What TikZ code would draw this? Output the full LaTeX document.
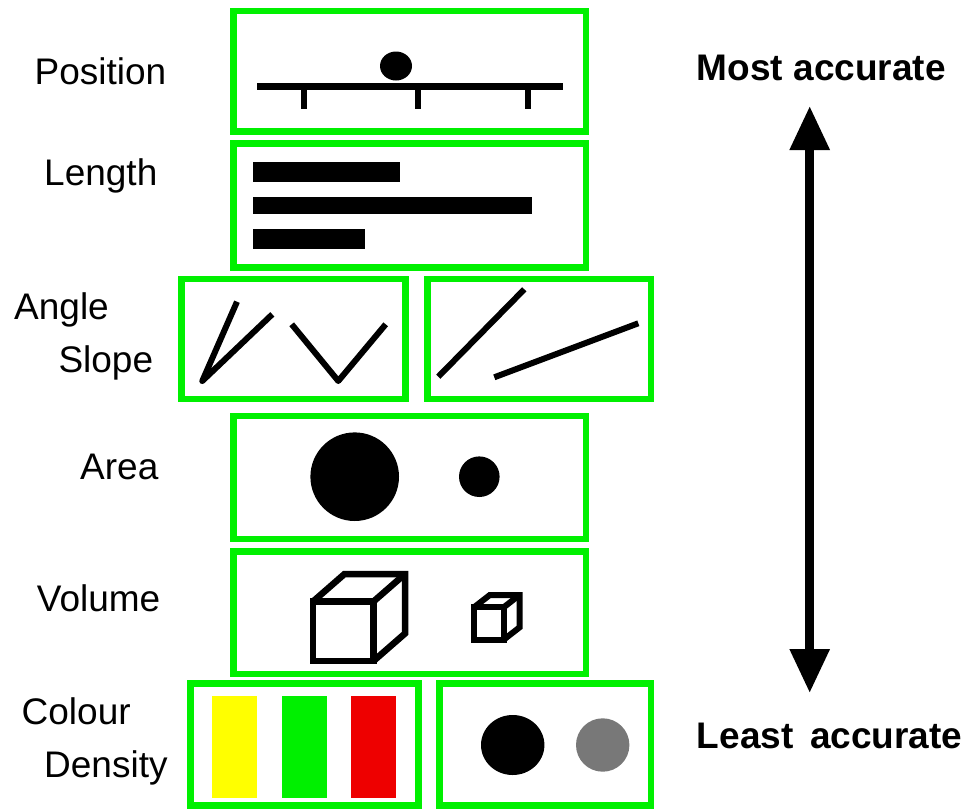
\documentclass[tikz,border=0pt]{standalone}
\usepackage{fontspec}
\setmainfont{Liberation Sans}
\usetikzlibrary{arrows.meta}
\definecolor{boxgreen}{RGB}{0,240,0}
\definecolor{barred}{RGB}{238,0,0}
\definecolor{baryellow}{RGB}{255,255,0}
\definecolor{dotgray}{RGB}{120,120,120}
\tikzset{
  panel/.style={draw=boxgreen, line width=6.5pt, rectangle, inner sep=0pt, outer sep=0pt},
  lbl/.style={anchor=base west, inner sep=0pt, font=\fontsize{37}{44}\selectfont},
  blbl/.style={anchor=base west, inner sep=0pt, font=\fontsize{37}{44}\selectfont\bfseries},
  ink/.style={line width=6.5pt},
  thin ink/.style={line width=6pt},
}
\begin{document}
\begin{tikzpicture}[x=1pt,y=-1pt]
\useasboundingbox (0,0) rectangle (967,809);
% panels
\node[panel, minimum width=352.5pt, minimum height=120.5pt] (pos) at (409.75,71.25) {};
\node[panel, minimum width=352.5pt, minimum height=124pt] (len) at (409.75,205.5) {};
\node[panel, minimum width=224.2pt, minimum height=120pt] (ang) at (293.4,339) {};
\node[panel, minimum width=223.5pt, minimum height=120pt] (slo) at (539.25,339) {};
\node[panel, minimum width=352.5pt, minimum height=123pt] (are) at (409.75,477.5) {};
\node[panel, minimum width=352.5pt, minimum height=122.3pt] (vol) at (409.75,612.85) {};
\node[panel, minimum width=228.2pt, minimum height=122.2pt] (col) at (304.4,744.4) {};
\node[panel, minimum width=211.3pt, minimum height=122.2pt] (den) at (545.35,744.4) {};
% labels
\node[lbl] (tpos) at (34.5,84.3) {Position};
\node[lbl] (tlen) at (44,185) {Length};
\node[lbl] (tang) at (14,319.3) {Angle};
\node[lbl] (tslo) at (58.3,372.7) {Slope};
\node[lbl] (tare) at (80,479.3) {Area};
\node[lbl] (tvol) at (36.7,611.7) {Volume};
\node[lbl] (tcol) at (21.5,724.3) {Colour};
\node[lbl] (tden) at (44,777.7) {Density};
\node[blbl] (most) at (696.7,80) {Most accurate};
\node[blbl] (least) at (696.7,748.3) {Least\hspace{0.45em}accurate};
% position
\draw[ink] (257,86.5) -- (563,86.5);
\foreach \x in {304,418,528} \draw[ink] (\x,86.5) -- (\x,109);
\fill (396,66) ellipse [x radius=16, y radius=14.5];
% length
\fill (253,161.7) rectangle (400,181.7);
\fill (253,196.7) rectangle (532,214);
\fill (253,229) rectangle (365,249);
% angle
\draw[thin ink, line join=round] (237,301.7) -- (202.3,381) -- (272.3,314.3);
\draw[thin ink, line join=round] (291.7,324.3) -- (338.3,381) -- (385.7,324.3);
% slope
\draw[thin ink] (438.3,376.7) -- (524.3,289.3);
\draw[thin ink] (494.3,377.3) -- (638.3,323.3);
% area
\fill (354.7,476.7) circle [radius=44.3];
\fill (479.3,476.7) circle [radius=20.3];
% volume
\draw[ink, line join=miter] (313,601.5) rectangle (373.5,661);
\draw[ink, line join=miter] (313,601.5) -- ++(31.5,-27.5) -- ++(60.5,0) -- ++(0,59.5) -- (373.5,661);
\draw[ink] (373.5,601.5) -- ++(31.5,-27.5);
\draw[thin ink, line join=miter] (474,607.3) rectangle (503.7,639.7);
\draw[thin ink, line join=miter] (474,607.3) -- ++(15.8,-12.3) -- ++(29.7,0) -- ++(0,32.4) -- (503.7,639.7);
\draw[thin ink] (503.7,607.3) -- ++(15.8,-12.3);
% colour
\fill[baryellow] (211.7,695.7) rectangle (257,797.7);
\fill[boxgreen] (281.7,695.7) rectangle (327,797.7);
\fill[barred] (351,695.7) rectangle (396,797.7);
% density
\fill (512.7,745) ellipse [x radius=31.7, y radius=30];
\fill[dotgray] (602.7,745) circle [radius=26.7];
% arrow
\coordinate (up) at (809.7,106);
\coordinate (dn) at (809.7,693);
\draw[line width=9pt, {Triangle[length=44pt,width=38pt]}-{Triangle[length=44pt,width=38pt]}] (dn) -- (up);
\end{tikzpicture}
\end{document}
